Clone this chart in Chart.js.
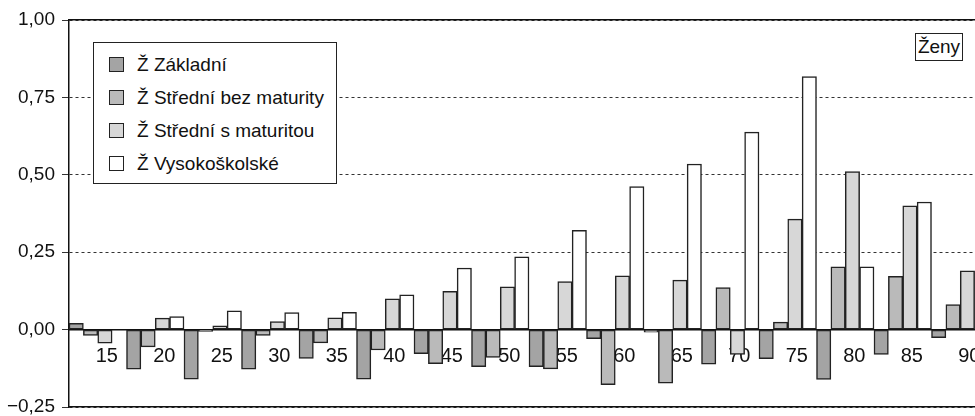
<!DOCTYPE html>
<html>
<head>
<meta charset="utf-8">
<script src="https://cdn.jsdelivr.net/npm/chart.js@4.4.0/dist/chart.umd.min.js"></script>
<style>
  html, body { margin: 0; padding: 0; background: #fff; overflow: hidden; }
  #wrap { position: relative; width: 990px; height: 416px; }
  .box { position: absolute; background: #fff; border: 1.5px solid #222; box-sizing: border-box;
         font-family: "Liberation Sans", Arial, sans-serif; font-size: 19px; color: #111; }
  #legend { left: 93px; top: 42px; width: 244px; height: 142px; padding-top: 5px; }
  #legend .row { height: 33px; display: flex; align-items: center; padding-left: 15px; white-space: nowrap; }
  #legend .sw { width: 13px; height: 13px; border: 1.5px solid #222; margin-right: 13px; flex: none; }
  #zeny { left: 915px; top: 33px; width: 48px; height: 28px; line-height: 25px; text-align: center; }
</style>
</head>
<body>
<div id="wrap">
  <canvas id="chart"></canvas>
  <div id="legend" class="box"></div>
  <div id="zeny" class="box">Ženy</div>
</div>
<script>
const categories = ["15", "20", "25", "30", "35", "40", "45", "50", "55", "60", "65", "70", "75", "80", "85", "90"];
const zakladni = [0.02, -0.128, -0.16, -0.128, -0.093, -0.16, -0.078, -0.12, -0.12, -0.029, -0.008, -0.112, -0.094, -0.161, -0.08, -0.026];
const bezMaturity = [-0.019, -0.056, -0.006, -0.019, -0.043, -0.066, -0.11, -0.09, -0.127, -0.178, -0.173, 0.136, 0.024, 0.203, 0.172, 0.081];
const sMaturitou = [-0.044, 0.037, 0.012, 0.026, 0.038, 0.099, 0.124, 0.138, 0.155, 0.174, 0.16, -0.08, 0.357, 0.51, 0.4, 0.19];
const vysokoskolske = [null, 0.042, 0.061, 0.055, 0.056, 0.112, 0.199, 0.235, 0.321, 0.462, 0.535, 0.638, 0.817, 0.203, 0.412, null];
const seriesNames = ["Ž Základní", "Ž Střední bez maturity", "Ž Střední s maturitou", "Ž Vysokoškolské"];
const seriesColors = ["#a4a4a4", "#bababa", "#d7d7d7", "#ffffff"];
const yTicks = [-0.25, 0, 0.25, 0.5, 0.75, 1];
const frameTicks = [-0.25, 1];

Chart.defaults.font.family = "'Liberation Sans', Arial, sans-serif";
Chart.defaults.font.size = 19;
Chart.defaults.color = "#111";

const seriesData = [zakladni, bezMaturity, sMaturitou, vysokoskolske];

const datasets = seriesData.map((data, i) => ({
  label: seriesNames[i],
  data,
  backgroundColor: seriesColors[i],
  borderColor: "#222",
  borderWidth: 1.5,
  borderSkipped: false,
  barPercentage: 1,
  categoryPercentage: 1,
}));

function fmt(v) {
  return v.toFixed(2).replace(".", ",").replace("-", "\u2212");
}

const chart = new Chart(document.getElementById("chart"), {
  type: "bar",
  data: { labels: categories, datasets },
  options: {
    responsive: true,
    maintainAspectRatio: false,
    animation: false,
    layout: { padding: { top: 20, bottom: 9, left: 0, right: 1 } },
    plugins: { legend: { display: false }, tooltip: { enabled: false } },
    scales: {
      x: {
        position: { y: 0 },
        z: 1,
        grid: { display: false, drawTicks: false },
        border: { display: true, color: "#111", width: 1.5 },
        ticks: { autoSkip: false, maxRotation: 0, padding: 15, labelOffset: 9, font: { size: 20 } },
        afterFit: (s) => { s.height = 0; s.paddingLeft = 0; s.paddingRight = 0; },
      },
      y: {
        min: -0.25,
        max: 1,
        afterBuildTicks: (s) => { s.ticks = yTicks.map((value) => ({ value })); },
        ticks: { padding: 7, callback: (v) => fmt(v) },
        grid: { color: "#333", lineWidth: 1, tickLength: 7, tickColor: "#333" },
        border: { display: true, color: "#111", width: 1.5, dash: [3, 3] },
        afterFit: (s) => { s.width = 69; s.paddingTop = 0; s.paddingBottom = 0; },
      },
      y2: {
        position: "left",
        min: -0.25,
        max: 1,
        afterBuildTicks: (s) => { s.ticks = frameTicks.map((value) => ({ value })); },
        ticks: { display: false },
        grid: { color: "#111", lineWidth: 1.5, drawTicks: false },
        border: { display: false },
        afterFit: (s) => { s.width = 0; s.paddingTop = 0; s.paddingBottom = 0; },
      },
    },
  },
});

const legendEl = document.getElementById("legend");
chart.data.datasets.forEach((ds) => {
  const row = document.createElement("div");
  row.className = "row";
  const sw = document.createElement("span");
  sw.className = "sw";
  sw.style.background = ds.backgroundColor;
  const txt = document.createElement("span");
  txt.textContent = ds.label;
  row.appendChild(sw);
  row.appendChild(txt);
  legendEl.appendChild(row);
});
</script>
</body>
</html>
